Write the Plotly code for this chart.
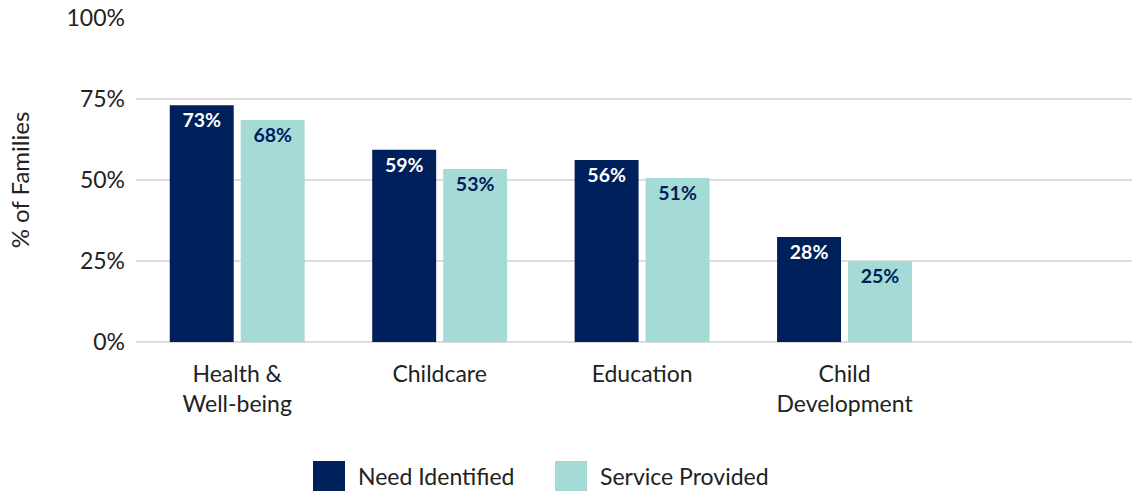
import plotly.graph_objects as go

categories = ["Health &<br>Well-being", "Childcare", "Education", "Child<br>Development"]
need_values = [73.1, 59.3, 56.2, 32.4]
need_labels = ["73%", "59%", "56%", "28%"]
service_values = [68.5, 53.4, 50.6, 25.0]
service_labels = ["68%", "53%", "51%", "25%"]
y_ticks = [0, 25, 50, 75, 100]
y_tick_text = ["0%", "25%", "50%", "75%", "100%"]

NAVY = "#00205B"
TEAL = "#A5DBD6"
TXT = "#222222"
FONT = "Source Sans Pro, Lato, Noto Sans, sans-serif"

fig = go.Figure()
fig.add_trace(go.Bar(
    x=categories, y=need_values, name="Need Identified",
    marker=dict(color=NAVY, line=dict(width=0)),
    text=need_labels, textposition="inside", insidetextanchor="end",
    textfont=dict(color="white", size=19.5, family=FONT, weight="bold"),
    textangle=0, showlegend=False, hoverinfo="skip",
))
fig.add_trace(go.Bar(
    x=categories, y=service_values, name="Service Provided",
    marker=dict(color=TEAL, line=dict(width=0)),
    text=service_labels, textposition="inside", insidetextanchor="end",
    textfont=dict(color=NAVY, size=19.5, family=FONT, weight="bold"),
    textangle=0, showlegend=False, hoverinfo="skip",
))

# custom legend (large swatches)
legend_items = [("Need Identified", NAVY), ("Service Provided", TEAL)]
W, H = 1132, 491
ml, mr, mt, mb = 136, 0, 18, 149
pw, ph = W - ml - mr, H - mt - mb
def px_x(p):
    return (p - ml) / pw
def px_y(p):
    return (H - mb - p) / ph
sw_x = [313, 555]
for (name, col), sx in zip(legend_items, sw_x):
    fig.add_shape(type="rect", xref="paper", yref="paper",
                  x0=px_x(sx), x1=px_x(sx + 32), y0=px_y(491), y1=px_y(461),
                  fillcolor=col, line=dict(width=0))
    fig.add_annotation(xref="paper", yref="paper", x=px_x(sx + 43), y=px_y(476),
                       text=name, showarrow=False, xanchor="left", yanchor="middle",
                       font=dict(size=23, color=TXT, family=FONT))

fig.update_layout(
    width=W, height=H,
    margin=dict(l=ml, r=mr, t=mt, b=mb),
    paper_bgcolor="white", plot_bgcolor="white",
    barmode="group", bargap=0.299, bargroupgap=0.0986,
    font=dict(family=FONT, color=TXT, size=23),
    xaxis=dict(type="category", range=[-0.5, 4.42], showgrid=False,
               showline=False, ticks="", tickfont=dict(size=23, color=TXT),
               ticklabelstandoff=16),
    yaxis=dict(range=[0, 100], tickvals=y_ticks, ticktext=y_tick_text,
               showgrid=True, gridcolor="#DDDDDD", gridwidth=1.5,
               zeroline=True, zerolinecolor="#DDDDDD", zerolinewidth=1.5,
               showline=False, ticks="", tickfont=dict(size=23, color=TXT),
               ticklabelstandoff=10,
               title=dict(text="% of Families", font=dict(size=24, color=TXT),
                          standoff=30)),
    uniformtext=dict(mode=False),
)

fig.write_html("out.html")
